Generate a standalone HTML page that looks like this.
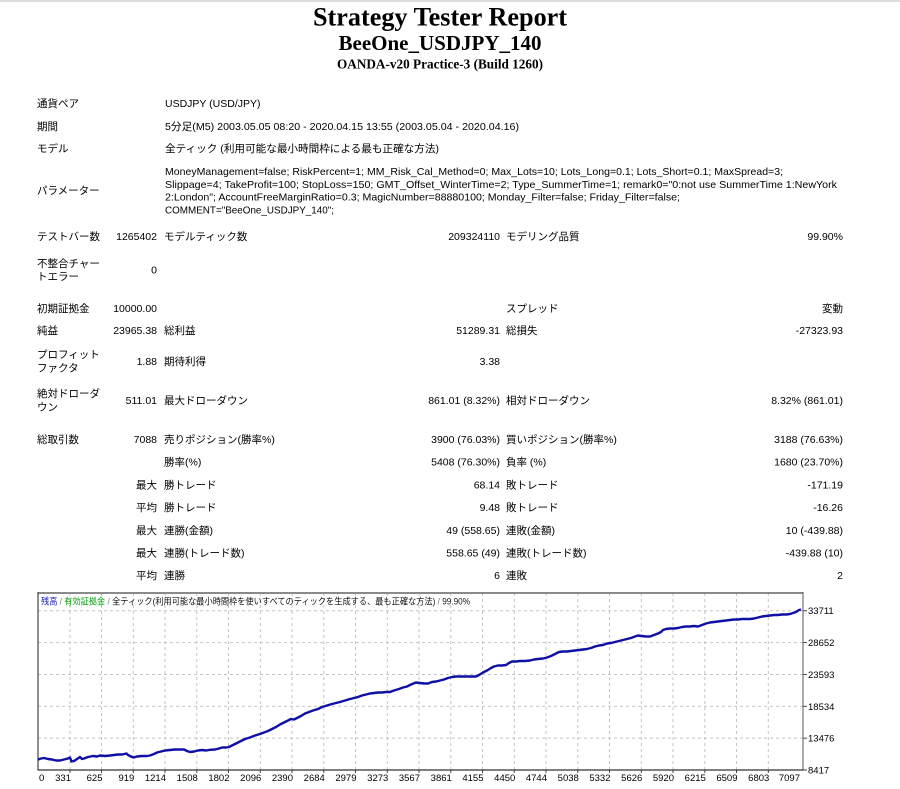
<!DOCTYPE html>
<html>
<head>
<meta charset="utf-8">
<style>
html,body{margin:0;padding:0;background:#fff;}
body{width:900px;height:789px;overflow:hidden;}
svg{display:block;}
.t{font-family:"Liberation Sans","Noto Sans CJK JP",sans-serif;font-size:10.5px;fill:#000;}
.h{font-family:"Liberation Serif","Noto Serif CJK SC",serif;font-weight:bold;fill:#000;}
.ax{font-family:"Liberation Sans","Noto Sans CJK JP",sans-serif;font-size:9.5px;fill:#000;}
.lg{font-family:"Liberation Sans","Noto Sans CJK JP",sans-serif;font-size:9px;}
.r{text-anchor:end;}
</style>
</head>
<body>
<svg width="900" height="789" viewBox="0 0 900 789" xmlns="http://www.w3.org/2000/svg">
<rect x="0" y="0" width="900" height="789" fill="#fff"/>
<rect x="0" y="0" width="900" height="2" fill="#dedede"/>

<!-- Titles -->
<text class="h" x="440" y="25.5" font-size="26" text-anchor="middle" textLength="254" lengthAdjust="spacingAndGlyphs">Strategy Tester Report</text>
<text class="h" x="440" y="50" font-size="21" text-anchor="middle" textLength="203" lengthAdjust="spacingAndGlyphs">BeeOne_USDJPY_140</text>
<text class="h" x="440" y="68.3" font-size="13.5" text-anchor="middle" textLength="206" lengthAdjust="spacingAndGlyphs">OANDA-v20 Practice-3 (Build 1260)</text>

<!-- Header rows -->
<text class="t" x="37" y="107">通貨ペア</text>
<text class="t" x="165" y="107">USDJPY (USD/JPY)</text>

<text class="t" x="37" y="130">期間</text>
<text class="t" x="165" y="130" textLength="354" lengthAdjust="spacingAndGlyphs">5分足(M5) 2003.05.05 08:20 - 2020.04.15 13:55 (2003.05.04 - 2020.04.16)</text>

<text class="t" x="37" y="152">モデル</text>
<text class="t" x="165" y="152" textLength="274" lengthAdjust="spacingAndGlyphs">全ティック (利用可能な最小時間枠による最も正確な方法)</text>

<text class="t" x="37" y="194">パラメーター</text>
<text class="t" x="165" y="175" textLength="618" lengthAdjust="spacingAndGlyphs">MoneyManagement=false; RiskPercent=1; MM_Risk_Cal_Method=0; Max_Lots=10; Lots_Long=0.1; Lots_Short=0.1; MaxSpread=3;</text>
<text class="t" x="165" y="187.8" textLength="672" lengthAdjust="spacingAndGlyphs">Slippage=4; TakeProfit=100; StopLoss=150; GMT_Offset_WinterTime=2; Type_SummerTime=1; remark0="0:not use SummerTime 1:NewYork</text>
<text class="t" x="165" y="200.6" textLength="515" lengthAdjust="spacingAndGlyphs">2:London"; AccountFreeMarginRatio=0.3; MagicNumber=88880100; Monday_Filter=false; Friday_Filter=false;</text>
<text class="t" x="165" y="213.4" textLength="169" lengthAdjust="spacingAndGlyphs">COMMENT="BeeOne_USDJPY_140";</text>

<!-- Test bars row -->
<text class="t" x="37" y="240">テストバー数</text>
<text class="t r" x="157" y="240">1265402</text>
<text class="t" x="164" y="240">モデルティック数</text>
<text class="t r" x="500" y="240">209324110</text>
<text class="t" x="506" y="240">モデリング品質</text>
<text class="t r" x="843" y="240">99.90%</text>

<text class="t" x="37" y="267">不整合チャー</text>
<text class="t" x="37" y="280">トエラー</text>
<text class="t r" x="157" y="273.5">0</text>

<!-- Money rows -->
<text class="t" x="37" y="312">初期証拠金</text>
<text class="t r" x="157" y="312">10000.00</text>
<text class="t" x="506" y="312">スプレッド</text>
<text class="t r" x="843" y="312">変動</text>

<text class="t" x="37" y="334">純益</text>
<text class="t r" x="157" y="334">23965.38</text>
<text class="t" x="164" y="334">総利益</text>
<text class="t r" x="500" y="334">51289.31</text>
<text class="t" x="506" y="334">総損失</text>
<text class="t r" x="843" y="334">-27323.93</text>

<text class="t" x="37" y="358">プロフィット</text>
<text class="t" x="37" y="371.5">ファクタ</text>
<text class="t r" x="157" y="365">1.88</text>
<text class="t" x="164" y="365">期待利得</text>
<text class="t r" x="500" y="365">3.38</text>

<text class="t" x="37" y="397">絶対ドローダ</text>
<text class="t" x="37" y="410.5">ウン</text>
<text class="t r" x="157" y="404">511.01</text>
<text class="t" x="164" y="404">最大ドローダウン</text>
<text class="t r" x="500" y="404">861.01 (8.32%)</text>
<text class="t" x="506" y="404">相対ドローダウン</text>
<text class="t r" x="843" y="404">8.32% (861.01)</text>

<!-- Trades -->
<text class="t" x="37" y="443">総取引数</text>
<text class="t r" x="157" y="443">7088</text>
<text class="t" x="164" y="443">売りポジション(勝率%)</text>
<text class="t r" x="500" y="443">3900 (76.03%)</text>
<text class="t" x="506" y="443">買いポジション(勝率%)</text>
<text class="t r" x="843" y="443">3188 (76.63%)</text>

<text class="t" x="164" y="465.7">勝率(%)</text>
<text class="t r" x="500" y="465.7">5408 (76.30%)</text>
<text class="t" x="506" y="465.7">負率 (%)</text>
<text class="t r" x="843" y="465.7">1680 (23.70%)</text>

<text class="t r" x="157" y="488.4">最大</text>
<text class="t" x="164" y="488.4">勝トレード</text>
<text class="t r" x="500" y="488.4">68.14</text>
<text class="t" x="506" y="488.4">敗トレード</text>
<text class="t r" x="843" y="488.4">-171.19</text>

<text class="t r" x="157" y="511.1">平均</text>
<text class="t" x="164" y="511.1">勝トレード</text>
<text class="t r" x="500" y="511.1">9.48</text>
<text class="t" x="506" y="511.1">敗トレード</text>
<text class="t r" x="843" y="511.1">-16.26</text>

<text class="t r" x="157" y="533.8">最大</text>
<text class="t" x="164" y="533.8">連勝(金額)</text>
<text class="t r" x="500" y="533.8">49 (558.65)</text>
<text class="t" x="506" y="533.8">連敗(金額)</text>
<text class="t r" x="843" y="533.8">10 (-439.88)</text>

<text class="t r" x="157" y="556.5">最大</text>
<text class="t" x="164" y="556.5">連勝(トレード数)</text>
<text class="t r" x="500" y="556.5">558.65 (49)</text>
<text class="t" x="506" y="556.5">連敗(トレード数)</text>
<text class="t r" x="843" y="556.5">-439.88 (10)</text>

<text class="t r" x="157" y="579.2">平均</text>
<text class="t" x="164" y="579.2">連勝</text>
<text class="t r" x="500" y="579.2">6</text>
<text class="t" x="506" y="579.2">連敗</text>
<text class="t r" x="843" y="579.2">2</text>

<!-- Chart -->
<g id="grid" stroke="#c4c4c4" stroke-width="1" stroke-dasharray="3,3" fill="none">
<line x1="38" y1="610.75" x2="803" y2="610.75"/>
<line x1="38" y1="642.6" x2="803" y2="642.6"/>
<line x1="38" y1="674.45" x2="803" y2="674.45"/>
<line x1="38" y1="706.3" x2="803" y2="706.3"/>
<line x1="38" y1="738.15" x2="803" y2="738.15"/>
<line x1="70.0" y1="593" x2="70.0" y2="770"/>
<line x1="101.5" y1="593" x2="101.5" y2="770"/>
<line x1="133.3" y1="593" x2="133.3" y2="770"/>
<line x1="165.0" y1="593" x2="165.0" y2="770"/>
<line x1="196.8" y1="593" x2="196.8" y2="770"/>
<line x1="228.5" y1="593" x2="228.5" y2="770"/>
<line x1="260.3" y1="593" x2="260.3" y2="770"/>
<line x1="292.0" y1="593" x2="292.0" y2="770"/>
<line x1="323.8" y1="593" x2="323.8" y2="770"/>
<line x1="355.5" y1="593" x2="355.5" y2="770"/>
<line x1="387.3" y1="593" x2="387.3" y2="770"/>
<line x1="419.0" y1="593" x2="419.0" y2="770"/>
<line x1="450.8" y1="593" x2="450.8" y2="770"/>
<line x1="482.5" y1="593" x2="482.5" y2="770"/>
<line x1="514.3" y1="593" x2="514.3" y2="770"/>
<line x1="546.0" y1="593" x2="546.0" y2="770"/>
<line x1="577.8" y1="593" x2="577.8" y2="770"/>
<line x1="609.5" y1="593" x2="609.5" y2="770"/>
<line x1="641.3" y1="593" x2="641.3" y2="770"/>
<line x1="673.0" y1="593" x2="673.0" y2="770"/>
<line x1="704.8" y1="593" x2="704.8" y2="770"/>
<line x1="736.5" y1="593" x2="736.5" y2="770"/>
<line x1="768.3" y1="593" x2="768.3" y2="770"/>
</g>

<!-- ticks -->
<g stroke="#444" stroke-width="1">
<line x1="803" y1="610.75" x2="807" y2="610.75"/>
<line x1="803" y1="642.6" x2="807" y2="642.6"/>
<line x1="803" y1="674.45" x2="807" y2="674.45"/>
<line x1="803" y1="706.3" x2="807" y2="706.3"/>
<line x1="803" y1="738.15" x2="807" y2="738.15"/>
<line x1="803" y1="770" x2="807" y2="770"/>
<line x1="70.0" y1="770" x2="70.0" y2="773"/>
<line x1="101.5" y1="770" x2="101.5" y2="773"/>
<line x1="133.3" y1="770" x2="133.3" y2="773"/>
<line x1="165.0" y1="770" x2="165.0" y2="773"/>
<line x1="196.8" y1="770" x2="196.8" y2="773"/>
<line x1="228.5" y1="770" x2="228.5" y2="773"/>
<line x1="260.3" y1="770" x2="260.3" y2="773"/>
<line x1="292.0" y1="770" x2="292.0" y2="773"/>
<line x1="323.8" y1="770" x2="323.8" y2="773"/>
<line x1="355.5" y1="770" x2="355.5" y2="773"/>
<line x1="387.3" y1="770" x2="387.3" y2="773"/>
<line x1="419.0" y1="770" x2="419.0" y2="773"/>
<line x1="450.8" y1="770" x2="450.8" y2="773"/>
<line x1="482.5" y1="770" x2="482.5" y2="773"/>
<line x1="514.3" y1="770" x2="514.3" y2="773"/>
<line x1="546.0" y1="770" x2="546.0" y2="773"/>
<line x1="577.8" y1="770" x2="577.8" y2="773"/>
<line x1="609.5" y1="770" x2="609.5" y2="773"/>
<line x1="641.3" y1="770" x2="641.3" y2="773"/>
<line x1="673.0" y1="770" x2="673.0" y2="773"/>
<line x1="704.8" y1="770" x2="704.8" y2="773"/>
<line x1="736.5" y1="770" x2="736.5" y2="773"/>
<line x1="768.3" y1="770" x2="768.3" y2="773"/>
</g>

<!-- frame -->
<line x1="38" y1="593" x2="803" y2="593" stroke="#8a8a8a" stroke-width="2"/>
<line x1="38" y1="592" x2="38" y2="770.5" stroke="#444" stroke-width="1.2"/>
<line x1="803" y1="592" x2="803" y2="770.5" stroke="#555" stroke-width="1"/>
<line x1="38" y1="770" x2="803.5" y2="770" stroke="#333" stroke-width="1.2"/>

<!-- legend -->
<text class="lg" x="41" y="604.3" textLength="429" lengthAdjust="spacingAndGlyphs"><tspan fill="#1a1ab4">残高</tspan><tspan fill="#777"> / </tspan><tspan fill="#10a010">有効証拠金</tspan><tspan fill="#777"> / </tspan><tspan fill="#111">全ティック(利用可能な最小時間枠を使いすべてのティックを生成する、最も正確な方法)</tspan><tspan fill="#777"> / </tspan><tspan fill="#111">99.90%</tspan></text>

<!-- equity line -->
<polyline fill="none" stroke="#1010a6" stroke-width="2.4" stroke-linejoin="round" points="38,759.5 41,758.5 44,758 48,759 52,759.5 56,760.5 60,760.5 64,759.5 68,758.5 70,757.5 71.5,761.5 74,761 77,759 80,757 82,759 84,758.5 88,757 93,756 97,756.5 100,755.5 105,756 110,755.5 114,755 118,754.5 122,754.5 126.5,753.5 128,755 131,756.5 133.5,757.5 137,756.5 142,756 147,756 150,755.5 154,754 157,752.5 161,751.5 165,750.5 170,750 175,749.5 180,749.5 184,749.5 187,751 190,752 194,751.5 198,750.5 202,750 206,750.5 210,749.8 215,749.5 219,748.5 222,747.5 226,747.5 229,747 234,744.5 240,741.5 245,739 250,737.5 255,735.5 260,734 264,732.5 268,731 272,729 276,727 280,724.5 284,722.5 288,720.5 291,719 294,719.5 297,718 301,716 305,713.5 309,712 313,710.5 318,709 322,707 327,705.5 332,704 336,703 340,702 345,700.5 350,699 354,698 358,697 362,695.5 366,694.5 370,693.5 374,693 378,692.5 382,692.5 386,692 390,692 394,690.5 399,689 403,687.5 407,686.5 411,684.5 416,682.5 420,683 424,683.5 428,683.5 432,682 436,681.5 440,680.5 444,679.5 448,678 452,677 456,676.5 460,676.5 464,676.5 468,676.5 472,676.5 476,676.5 479,675 483,672.5 487,670.5 491,668 494,666.5 498,665.5 502,665.5 506,665 509,663 512,661.5 516,661.5 520,661 525,661 530,660.5 534,659.5 538,659 543,658.5 547,657.5 551,656 555,654 559,652 563,651.5 567,651.5 571,651 575,650.5 579,650 583,649.5 587,649 591,648 595,646.5 599,645.5 603,645 607,643.5 611,643 615,642 619,641 623,640 627,639 631,638 635,636.5 638,635.5 642,636 646,636.5 650,636.5 654,635 658,633.5 661,632 663,630 666,629 670,628.5 674,628.5 678,628 682,627 686,626.5 690,626.5 694,626 698,626.5 702,625 706,623.5 710,622.5 714,622 718,621.5 722,621 726,620.5 730,620 734,619.5 738,619.5 742,619 746,619 750,619 754,618.5 758,617.5 762,616.5 766,616 770,615.5 774,615 778,615 782,614.5 786,614.5 790,614 793,613 796,612 799,610 801,609.5"/>

<!-- y labels -->
<text class="ax" x="808" y="614.2">33711</text>
<text class="ax" x="808" y="646.1">28652</text>
<text class="ax" x="808" y="677.9">23593</text>
<text class="ax" x="808" y="709.8">18534</text>
<text class="ax" x="808" y="741.6">13476</text>
<text class="ax" x="808" y="773.5">8417</text>

<!-- x labels -->
<text class="ax" x="39" y="781">0</text>
<text class="ax" x="71" y="781" text-anchor="end">331</text>
<text class="ax" x="102.5" y="781" text-anchor="end">625</text>
<text class="ax" x="134.3" y="781" text-anchor="end">919</text>
<text class="ax" x="166" y="781" text-anchor="end">1214</text>
<text class="ax" x="197.8" y="781" text-anchor="end">1508</text>
<text class="ax" x="229.5" y="781" text-anchor="end">1802</text>
<text class="ax" x="261.3" y="781" text-anchor="end">2096</text>
<text class="ax" x="293" y="781" text-anchor="end">2390</text>
<text class="ax" x="324.8" y="781" text-anchor="end">2684</text>
<text class="ax" x="356.5" y="781" text-anchor="end">2979</text>
<text class="ax" x="388.3" y="781" text-anchor="end">3273</text>
<text class="ax" x="420" y="781" text-anchor="end">3567</text>
<text class="ax" x="451.8" y="781" text-anchor="end">3861</text>
<text class="ax" x="483.5" y="781" text-anchor="end">4155</text>
<text class="ax" x="515.3" y="781" text-anchor="end">4450</text>
<text class="ax" x="547" y="781" text-anchor="end">4744</text>
<text class="ax" x="578.8" y="781" text-anchor="end">5038</text>
<text class="ax" x="610.5" y="781" text-anchor="end">5332</text>
<text class="ax" x="642.3" y="781" text-anchor="end">5626</text>
<text class="ax" x="674" y="781" text-anchor="end">5920</text>
<text class="ax" x="705.8" y="781" text-anchor="end">6215</text>
<text class="ax" x="737.5" y="781" text-anchor="end">6509</text>
<text class="ax" x="769.3" y="781" text-anchor="end">6803</text>
<text class="ax" x="800" y="781" text-anchor="end">7097</text>
</svg>
</body>
</html>
